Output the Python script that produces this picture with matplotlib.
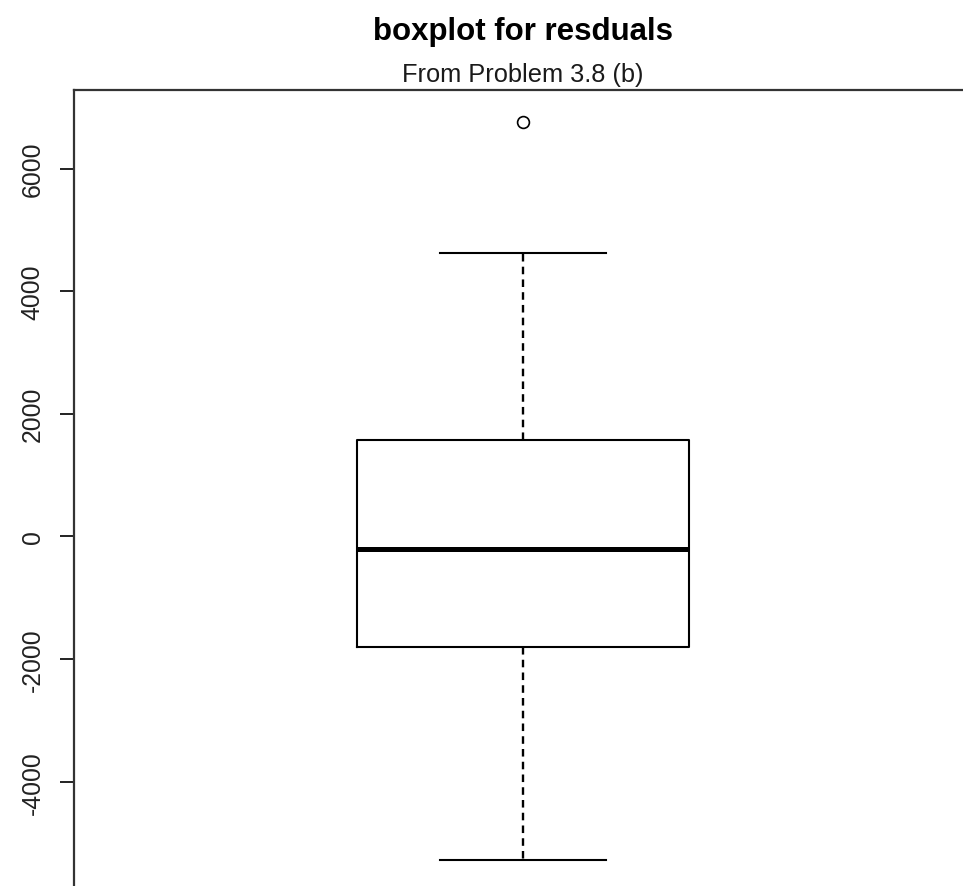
import matplotlib
matplotlib.use("Agg")
import matplotlib.pyplot as plt

# Five-number summary of the residuals plus the single outlier
whisker_low = -5280
q1 = -1806
median = -207
q3 = 1570
whisker_high = 4620
outliers = [6760]

yticks = [-4000, -2000, 0, 2000, 4000, 6000]
ytick_labels = ["-4000", "-2000", "0", "2000", "4000", "6000"]

title = "boxplot for resduals"
subtitle = "From Problem 3.8 (b)"

plt.rcParams["font.family"] = ["Liberation Sans", "DejaVu Sans"]

W, H = 963, 887
fig = plt.figure(figsize=(W / 100, H / 100), dpi=100)

# axes box in pixels (runs past the right and bottom edges of the canvas)
left_px, top_px, right_px, bottom_px = 74, 91, 1000, 890
ax = fig.add_axes([left_px / W, 1 - bottom_px / H,
                   (right_px - left_px) / W, (bottom_px - top_px) / H])

stats = [dict(med=median, q1=q1, q3=q3, whislo=whisker_low,
              whishi=whisker_high, fliers=outliers)]
lw = 1.5
ax.bxp(stats, positions=[1], widths=0.8, showfliers=True,
       boxprops=dict(color="black", linewidth=lw),
       medianprops=dict(color="black", linewidth=3.6, solid_capstyle="butt"),
       whiskerprops=dict(color="black", linewidth=1.7, linestyle=(0, (3.2, 2.2))),
       capprops=dict(color="black", linewidth=lw),
       capwidths=0.4,
       flierprops=dict(marker="o", markersize=8.5, markerfacecolor="none",
                       markeredgecolor="black", markeredgewidth=1.2))

# x scale: 415 px per unit, box centred at x = 523 px
ppu = 415.0
ax.set_xlim(1 - (523 - left_px) / ppu, 1 + (right_px - 523) / ppu)
ax.set_ylim(-5751, 7281)

ax.set_xticks([])
ax.set_yticks(yticks)
ax.set_yticklabels(ytick_labels, rotation=90, va="center", ha="right",
                   fontsize=17.8, color="#222222")
ax.tick_params(axis="y", length=10, width=1.4, pad=11, colors="#222222",
               labelcolor="#222222")
for side in ["left", "top", "right", "bottom"]:
    ax.spines[side].set_linewidth(1.6)
    ax.spines[side].set_color("#333333")

fig.text(523 / W, 1 - 40 / H, title, ha="center", va="baseline",
         fontsize=22.5, fontweight="bold", color="black")
fig.text(523 / W, 1 - 82 / H, subtitle, ha="center", va="baseline",
         fontsize=18.3, color="#1a1a1a")

fig.savefig("out.png", dpi=100)
